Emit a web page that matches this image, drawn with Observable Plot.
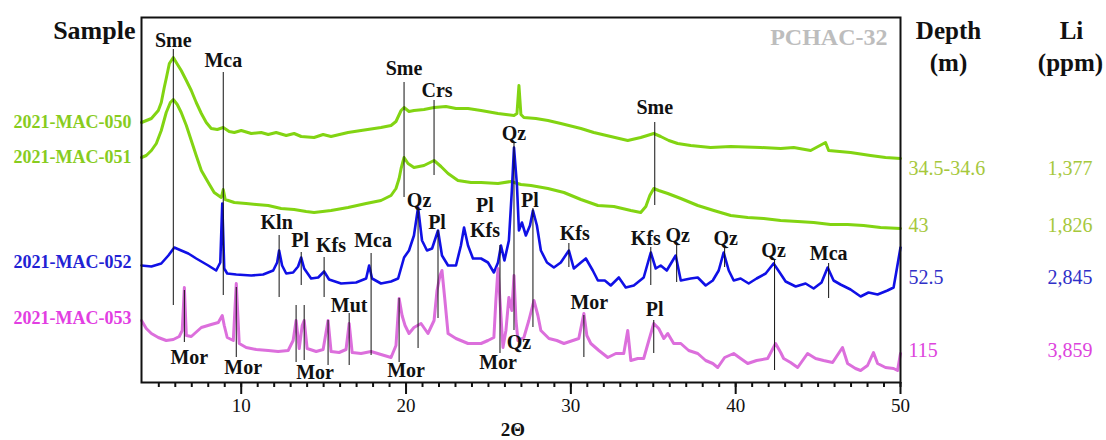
<!DOCTYPE html>
<html>
<head>
<meta charset="utf-8">
<script src="https://cdn.jsdelivr.net/npm/d3@7"></script>
<script src="https://cdn.jsdelivr.net/npm/@observablehq/plot@0.6"></script>
<style>
  html, body { margin: 0; padding: 0; background: #fff; }
  svg text { font-family: "Liberation Serif", "Times New Roman", serif; }
</style>
</head>
<body>
<script>
// ---------------- DATA ----------------
const samples = ["2021-MAC-050", "2021-MAC-051", "2021-MAC-052", "2021-MAC-053"];
const depths = ["34.5-34.6", "43", "52.5", "115"];
const liPpm = ["1,377", "1,826", "2,845", "3,859"];
const sampleLabelLevel = [260, 225, 120, 64];
const valueLabelLevel = [214, 157, 105, 32];

// 2021-MAC-050 (offset intensity, a.u.)
const theta050 = [3.95,4.55,4.97,5.15,5.33,5.45,5.64,5.88,6.06,6.36,6.67,6.97,7.27,7.58,7.88,8.18,8.55,8.91,9.27,9.58,10.0,10.61,11.21,11.64,12.12,12.73,13.21,13.64,14.42,14.97,15.45,16.48,17.27,18.48,19.09,19.39,19.7,19.88,20.18,20.48,21.09,21.7,22.42,23.03,23.76,24.55,25.58,26.06,26.55,26.73,26.85,26.97,27.15,27.88,28.61,29.39,30.61,31.39,32.42,33.45,34.24,35.03,35.45,35.94,36.48,37.27,38.48,39.7,41.52,42.73,43.52,44.55,45.45,45.64,46.97,48.18,49.09,50];
const int050 = [260,264,272,280,295,304,319,325,320,312,302,292,280,269,260,254,253,255,251,250,252,249,250,248,250,247,249,246,245,248,246,250,252,255,257,261,272,275,271,272,273,275,276,274,274,272,269,268,267,269,297,268,265,264,262,259,254,250,246,242,245,249,246,242,239,237,235,236,235,234,235,232,240,232,230,227,225,224];

// 2021-MAC-051
const theta051 = [3.95,4.24,4.55,4.85,5.15,5.45,5.7,5.88,6.12,6.36,6.67,6.97,7.27,7.58,8.0,8.36,8.79,8.91,9.03,9.58,10.3,10.91,11.64,12.42,13.21,13.94,14.42,15.45,16.48,17.58,18.48,19.09,19.39,19.58,19.7,19.88,20.12,20.48,21.09,21.7,22.12,22.55,23.15,23.94,24.55,25.58,26.36,26.97,27.58,28.61,29.58,30.61,31.64,32.61,33.64,34.24,34.55,34.79,35.03,35.33,35.88,36.67,37.7,38.67,39.7,40.73,41.7,42.73,43.76,44.73,45.76,46.79,47.76,48.79,50];
const int051 = [225,227,232,239,252,270,280,283,278,270,257,242,227,212,200,190,185,193,183,180,179,178,177,174,173,171,170,172,175,179,182,187,194,204,214,225,219,215,217,222,216,209,202,200,200,199,201,198,197,194,190,183,177,176,172,170,176,187,194,192,189,184,177,172,167,165,164,162,161,160,158,158,157,155,154];

// 2021-MAC-052
const theta052 = [3.95,4.55,5.15,5.58,5.94,6.36,6.79,7.27,8.0,8.48,8.73,8.85,8.97,9.15,9.7,10.61,11.33,11.94,12.18,12.3,12.48,12.73,13.15,13.45,13.64,13.82,14.24,14.67,15.03,15.33,16.06,16.97,17.58,17.76,17.94,18.48,19.09,19.52,19.88,20.18,20.48,20.73,20.97,21.27,21.58,21.94,22.18,22.55,23.03,23.33,23.52,23.76,24.06,24.55,24.97,25.33,25.58,25.76,25.97,26.24,26.42,26.55,26.73,26.85,27.03,27.27,27.52,27.7,27.94,28.18,28.55,28.97,29.39,29.88,30.18,30.61,30.91,31.33,31.64,32.06,32.42,32.91,33.33,33.82,34.42,34.85,35.15,35.45,35.82,36.36,36.67,37.27,37.7,38.18,38.61,38.97,39.27,39.58,39.88,40.3,40.79,41.27,41.82,42.3,42.67,43.03,43.64,44.24,44.73,45.21,45.58,45.94,46.36,46.97,47.58,48.06,48.61,49.21,49.58,49.76,50];
const int052 = [117,116,119,127,135,132,129,124,117,112,120,179,114,109,108,107,108,112,120,132,117,109,110,116,125,114,104,105,111,103,99,100,104,117,104,99,101,104,125,132,147,175,142,132,134,152,127,117,117,137,155,137,124,124,120,110,120,137,122,142,192,235,197,152,160,147,157,172,157,132,120,115,120,132,114,120,124,112,102,102,97,105,95,97,105,130,114,117,112,127,102,104,105,97,102,112,130,112,102,104,99,104,109,119,110,101,96,99,94,100,115,102,98,93,86,90,88,92,95,112,135];

// 2021-MAC-053
const theta053 = [3.95,4.24,4.55,4.97,5.45,5.88,6.24,6.42,6.55,6.67,6.97,7.58,8.18,8.61,8.85,8.97,9.15,9.52,9.7,9.88,10.3,10.91,11.64,12.24,12.85,13.15,13.33,13.52,13.7,13.82,14.0,14.55,14.97,15.27,15.45,15.94,16.36,16.55,16.73,17.27,17.88,18.48,19.09,19.39,19.58,19.76,19.94,20.18,20.48,20.91,21.33,21.7,21.88,22.06,22.18,22.36,22.55,23.03,23.76,24.55,24.97,25.33,25.45,25.58,25.7,25.88,26.06,26.24,26.42,26.55,26.67,26.79,27.15,27.45,27.76,28.0,28.18,28.67,29.15,29.58,30.12,30.48,30.79,30.97,31.21,31.7,32.24,32.73,33.21,33.45,33.64,34.06,34.42,34.73,35.03,35.33,35.64,35.88,36.24,36.67,37.15,37.7,38.18,38.61,38.91,39.33,39.88,40.3,40.73,41.27,41.94,42.42,42.73,42.91,43.33,43.76,44.36,44.85,45.33,45.88,46.48,46.79,47.27,47.58,48.0,48.36,48.61,49.09,49.58,49.82,50];
const int053 = [62,54,49,45,42,43,46,52,95,47,46,55,58,60,67,57,45,42,99,39,35,33,32,31,32,42,62,34,57,62,34,31,33,62,31,30,33,59,30,29,31,28,25,37,84,67,57,49,55,59,49,62,92,107,112,82,49,44,39,39,42,45,82,114,82,35,52,85,72,107,62,42,45,62,82,67,52,44,42,39,42,44,69,47,39,32,25,29,29,52,22,24,24,42,59,54,44,49,39,39,32,29,22,19,15,25,29,24,19,22,24,39,30,24,20,15,29,24,22,20,35,19,14,12,17,30,19,15,14,12,29];

// reference lines of identified phases
const phaseLinePos = [5.88,8.91,19.88,21.7,26.55,35.09,12.3,13.64,15.03,17.88,20.73,21.94,25.7,27.7,29.88,34.85,36.42,39.33,42.36,45.64,6.55,9.7,16.55,13.33,13.82,15.27,19.58,30.79,35.03];
const phaseLineFrom = [77,87,185,207,52,177,85,97,85,27,34,64,29,55,115,97,100,115,12,84,40,25,17,20,22,17,20,25,29];
const phaseLineTo = [333,310,300,282,240,260,147,130,125,129,172,152,137,174,139,135,137,134,122,119,92,95,69,77,77,62,84,67,62];

// phase labels
const phaseNames = ["Sme","Mca","Sme","Crs","Qz","Sme","Kln","Pl","Kfs","Mca","Qz","Pl","Pl","Kfs","Pl","Kfs","Kfs","Qz","Qz","Qz","Mca","Mor","Mor","Mut","Mor","Mor","Mor","Qz","Mor","Pl"];
const phaseLabelPos = [5.88,8.91,19.88,21.88,26.55,35.09,12.15,13.58,15.45,18.0,20.79,21.88,24.79,24.79,27.52,30.24,34.55,36.48,39.39,42.3,45.64,6.85,10.12,16.55,14.48,20.0,25.58,26.85,31.12,35.09];
const phaseLabelLevel = [342,322,314,292,249,275,160,142,137,142,182,160,177,152,182,149,144,147,144,132,129,25,15,77,10,12,20,40,80,73];

const majorTicks = [10, 20, 30, 40, 50];
const minorTicks = d3.range(5, 51);

// ---------------- STYLE ----------------
const lineColors = ["#82d412", "#82d412", "#1010e6", "#dc6fdc"];
const nameColors = ["#88cc1e", "#88cc1e", "#2222d4", "#e23ee2"];
const valueColors = ["#a6c83c", "#a6c83c", "#3030c8", "#dd44dd"];
const lineWidths = [3, 3, 2.6, 3];

const traces = [[theta050, int050], [theta051, int051], [theta052, int052], [theta053, int053]];

const marks = [];
traces.forEach(([tx, ty], k) => {
  const rows = tx.map((x, i) => ({x, y: ty[i]}));
  marks.push(Plot.line(rows, {x: "x", y: "y", stroke: lineColors[k], strokeWidth: lineWidths[k], strokeLinejoin: "round"}));
});

const ruleRows = phaseLinePos.map((x, i) => ({x, y1: phaseLineFrom[i], y2: phaseLineTo[i]}));
marks.push(Plot.ruleX(ruleRows, {x: "x", y1: "y1", y2: "y2", stroke: "#111", strokeWidth: 1}));

const labelRows = phaseNames.map((t, i) => ({t, x: phaseLabelPos[i], y: phaseLabelLevel[i]}));
marks.push(Plot.text(labelRows, {x: "x", y: "y", text: "t", fontSize: 20, fontWeight: "bold", fill: "#111", lineAnchor: "middle"}));

samples.forEach((s, k) => {
  marks.push(Plot.text([s], {frameAnchor: "left", y: [sampleLabelLevel[k]], text: d => d, dx: -10, textAnchor: "end", lineAnchor: "middle", fontSize: 18, fontWeight: "bold", fill: nameColors[k]}));
  marks.push(Plot.text([depths[k]], {frameAnchor: "right", y: [valueLabelLevel[k]], text: d => d, dx: 8, textAnchor: "start", lineAnchor: "middle", fontSize: 20, fill: valueColors[k]}));
  marks.push(Plot.text([liPpm[k]], {frameAnchor: "right", y: [valueLabelLevel[k]], text: d => d, dx: 192, textAnchor: "end", lineAnchor: "middle", fontSize: 20, fill: valueColors[k]}));
});

// headers
const hdr = {lineAnchor: "middle", fontWeight: "bold", fill: "#111"};
marks.push(Plot.text(["Sample"], {...hdr, frameAnchor: "top-left", text: d => d, dx: -6, dy: 13, textAnchor: "end", fontSize: 26}));
marks.push(Plot.text(["Depth"], {...hdr, frameAnchor: "top-right", text: d => d, dx: 48, dy: 13, textAnchor: "middle", fontSize: 25}));
marks.push(Plot.text(["(m)"], {...hdr, frameAnchor: "top-right", text: d => d, dx: 48, dy: 45, textAnchor: "middle", fontSize: 25}));
marks.push(Plot.text(["Li"], {...hdr, frameAnchor: "top-right", text: d => d, dx: 171, dy: 13, textAnchor: "middle", fontSize: 25}));
marks.push(Plot.text(["(ppm)"], {...hdr, frameAnchor: "top-right", text: d => d, dx: 170, dy: 45, textAnchor: "middle", fontSize: 25}));
marks.push(Plot.text(["PCHAC-32"], {...hdr, frameAnchor: "top-right", text: d => d, dx: -13, dy: 20, textAnchor: "end", fontSize: 24, fill: "#bdbdbd"}));
marks.push(Plot.text(["2Θ"], {...hdr, frameAnchor: "bottom", text: d => d, dx: -8, dy: 47, textAnchor: "middle", fontSize: 19}));

// axes and frame
marks.push(Plot.axisX({ticks: minorTicks, tickSize: 5, tickFormat: () => "", strokeWidth: 2, label: null}));
marks.push(Plot.axisX({ticks: majorTicks, tickSize: 12, tickPadding: 4, fontSize: 19, strokeWidth: 2, label: null, fill: "#111"}));
marks.push(Plot.frame({stroke: "#111", strokeWidth: 2}));

const chart = Plot.plot({
  width: 1106,
  height: 440,
  marginLeft: 141,
  marginRight: 206,
  marginTop: 17,
  marginBottom: 58,
  style: {fontFamily: "Liberation Serif, Times New Roman, serif", fontSize: "17px", background: "#fff", color: "#111"},
  x: {domain: [3.95, 50]},
  y: {domain: [0, 365], axis: null},
  marks
});
document.body.appendChild(chart);
</script>
</body>
</html>
